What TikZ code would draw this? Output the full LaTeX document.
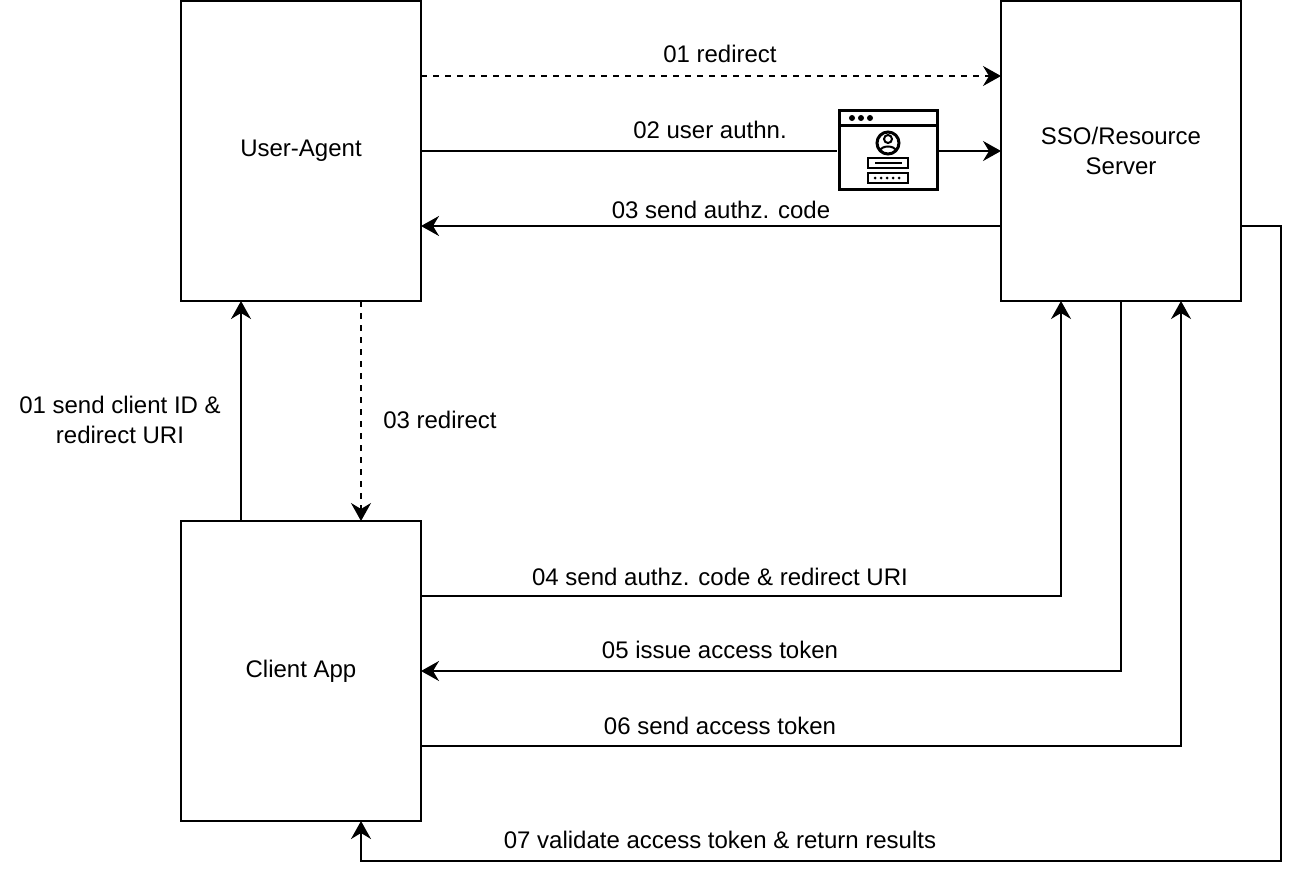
\documentclass[tikz,border=0pt]{standalone}
\usepackage{fontspec}
\setmainfont{Liberation Sans}
\usetikzlibrary{arrows.meta}

\begin{document}
\begin{tikzpicture}[x=0.75pt,y=-0.75pt]
            \tikzset{
            flow box/.style={rectangle,draw,line width=1.5pt,minimum width=180pt,minimum height=225pt,inner sep=0,outer sep=0,align=center,font=\fontsize{18}{22.5}\selectfont},
            flow link/.style={line width=1.5pt,-{Stealth[length=13.5pt,width=15pt,inset=4.5pt]}},
            flow dash/.style={flow link,dash pattern=on 4.5pt off 4.5pt},
            flow text/.style={inner sep=0,align=center,font=\fontsize{18}{23}\selectfont},
            icon line/.style={line width=2.25pt,line join=miter}
            }
            \useasboundingbox (0,0) rectangle (1298,878);
            \node[flow box] (UA) at (301, 151) {User-Agent};
            \node[flow box] (SSO) at (1121, 151) {SSO/Resource\\Server};
            \node[flow box] (CA) at (301, 671) {Client App};
            \node[rectangle,draw,icon line,minimum width=73.5pt,minimum height=59.25pt,inner sep=0,outer sep=1.5pt] (LG) at (888, 150) {};
            \coordinate (C7) at (1281, 861);

            % login icon
            \draw[icon line] (839,125) -- (937,125);
            \foreach \x in {852,861,870} \fill (\x,118) circle (3);
            \draw[icon line] (888,143) circle (11);
            \draw[line width=1.5pt] (888,139) circle (4);
            \draw[line width=1.5pt] (880,151) .. controls (881,145) and (895,145) .. (896,151);
            \draw[line width=1.8pt] (868,158) rectangle (908,168);
            \draw[line width=1.8pt] (875,163) -- (902,163);
            \draw[line width=1.8pt] (868,173) rectangle (908,183);
            \foreach \x in {875,881,887,893,899} \fill (\x,178) circle (1.5);

            \draw[flow dash] ([yshift=56.25pt]UA.east) -- ([yshift=56.25pt]SSO.west);
            \draw[line width=1.5pt] (UA.east) -- (UA.east -| LG.west);
            \draw[flow link] (SSO.west -| LG.east) -- (SSO.west);
            \draw[flow link] ([yshift=-56.25pt]SSO.west) -- ([yshift=-56.25pt]UA.east);
            \draw[flow dash] ([xshift=45pt]UA.south) -- ([xshift=45pt]CA.north);
            \draw[flow link] ([xshift=-45pt]CA.north) -- ([xshift=-45pt]UA.south);
            \draw[flow link] ([yshift=56.25pt]CA.east) -| ([xshift=-45pt]SSO.south);
            \draw[flow link] (SSO.south) |- (CA.east);
            \draw[flow link] ([yshift=-56.25pt]CA.east) -| ([xshift=45pt]SSO.south);
            \draw[flow link] ([yshift=-56.25pt]SSO.east) -| (C7) -| ([xshift=45pt]CA.south);

            \node[flow text] (T1) at (720, 54) {01 redirect};
            \node[flow text] (T2) at (710, 130) {02 user authn.};
            \node[flow text] (T3) at (721, 210) {03 send authz. code};
            \node[flow text] (T4) at (120, 420) {01 send client ID \&\\redirect URI};
            \node[flow text] (T5) at (440, 420) {03 redirect};
            \node[flow text] (T6) at (720, 577) {04 send authz. code \& redirect URI};
            \node[flow text] (T7) at (720, 650) {05 issue access token};
            \node[flow text] (T8) at (720, 726) {06 send access token};
            \node[flow text] (T9) at (720, 840) {07 validate access token \& return results};
        \end{tikzpicture}
\end{document}
